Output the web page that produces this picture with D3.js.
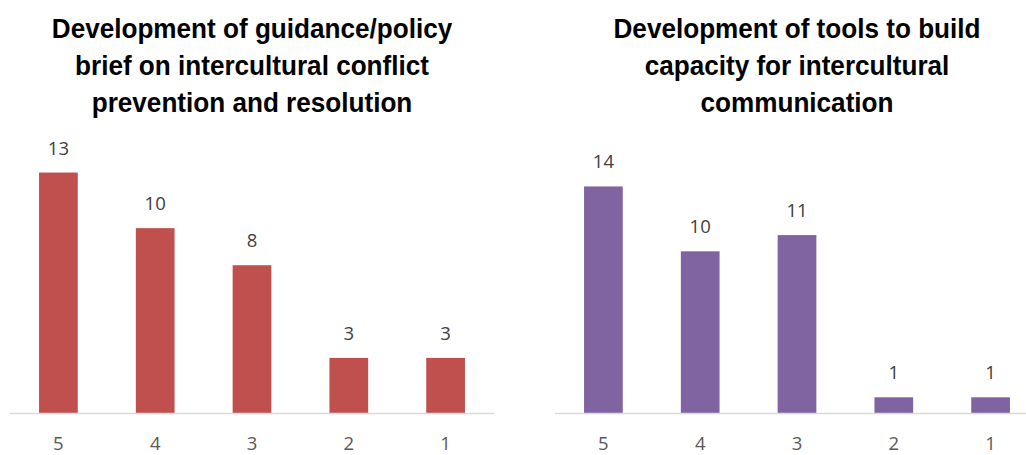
<!DOCTYPE html>
<html>
<head>
<meta charset="utf-8">
<script src="https://cdn.jsdelivr.net/npm/d3@7/dist/d3.min.js"></script>
<style>
  html, body { margin: 0; padding: 0; background: #fff; }
  svg { display: block; }
</style>
</head>
<body>
<svg id="chart" width="1026" height="455"></svg>
<script>
// Rating categories shown on the x axis
const ratings = ["5", "4", "3", "2", "1"];

// Panel titles (one array of lines per panel)
const titleGuidance = ["Development of guidance/policy", "brief on intercultural conflict", "prevention and resolution"];
const titleTools = ["Development of tools to build", "capacity for intercultural", "communication"];

// Number of responses per rating
const guidanceCounts = [13, 10, 8, 3, 3];
const toolsCounts = [14, 10, 11, 1, 1];

// Value-axis maximums
const guidanceMax = 14;
const toolsMax = 16;

const svg = d3.select("#chart");

function drawPanel(opts) {
  const g = svg.append("g");
  const x = d3.scaleBand().domain(ratings).range([opts.x0, opts.x1]).paddingInner(0.6).paddingOuter(0.3);
  const y = d3.scaleLinear().domain([0, opts.max]).range([opts.baseline, opts.top]);

  // title: bold, slightly condensed horizontally
  const cx = (opts.x0 + opts.x1) / 2;
  const t = g.append("g")
    .attr("transform", `translate(${cx},0) scale(0.933,1)`)
    .append("text")
    .attr("text-anchor", "middle")
    .attr("font-family", "'Liberation Sans', Arial, sans-serif")
    .attr("font-weight", "bold")
    .attr("font-size", 28)
    .attr("fill", "#000");
  opts.title.forEach((line, i) => {
    t.append("tspan").attr("x", 0).attr("y", 38 + i * 37).text(line);
  });

  // bars
  g.selectAll("rect.bar").data(opts.values).enter().append("rect")
    .attr("class", "bar")
    .attr("x", (d, i) => x(ratings[i]))
    .attr("width", x.bandwidth())
    .attr("y", d => y(d))
    .attr("height", d => y(0) - y(d))
    .attr("fill", opts.color);

  // value labels
  g.selectAll("text.val").data(opts.values).enter().append("text")
    .attr("class", "val")
    .attr("x", (d, i) => x(ratings[i]) + x.bandwidth() / 2)
    .attr("y", d => y(d) - 18)
    .attr("text-anchor", "middle")
    .attr("font-family", "'Open Sans', 'Noto Sans', sans-serif")
    .attr("font-size", 18.5)
    .attr("fill", "#404040")
    .text(d => d);

  // category axis
  const axis = d3.axisBottom(x).tickSize(0).tickPadding(23);
  const ag = g.append("g").attr("transform", `translate(0,${opts.baseline})`).call(axis);
  ag.select(".domain").attr("stroke", "#D9D9D9").attr("stroke-width", 1.5)
    .attr("d", `M${opts.x0},0H${opts.axisEnd}`);
  ag.selectAll(".tick text")
    .attr("font-family", "'Open Sans', 'Noto Sans', sans-serif")
    .attr("font-size", 18.5)
    .attr("fill", "#595959")
    .attr("dy", "0.71em");
}

drawPanel({ x0: 10, x1: 494, axisEnd: 494, top: 154, baseline: 413.5, max: guidanceMax,
  values: guidanceCounts, color: "#C0504D", title: titleGuidance });
drawPanel({ x0: 555, x1: 1039, axisEnd: 1026, top: 154, baseline: 413.5, max: toolsMax,
  values: toolsCounts, color: "#8064A2", title: titleTools });
</script>
</body>
</html>
